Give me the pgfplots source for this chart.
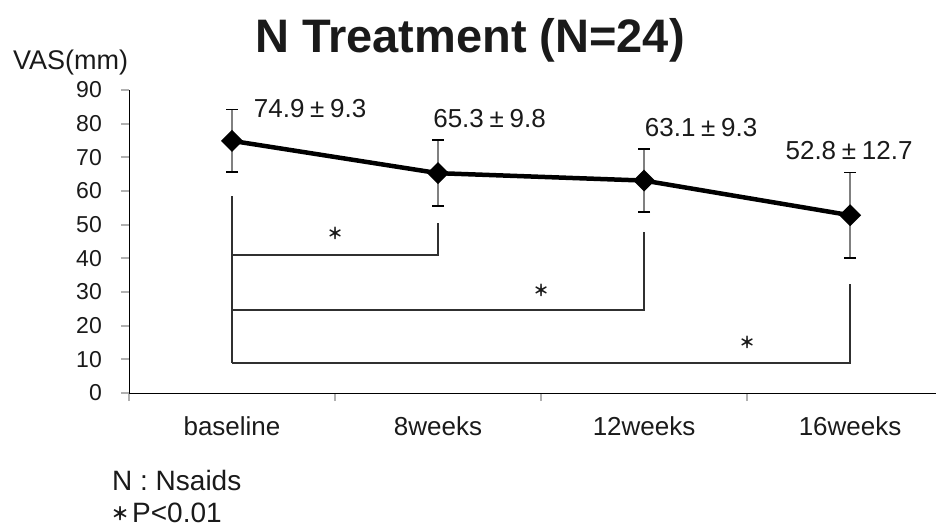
\documentclass[border=0pt]{standalone}
\usepackage{fontspec}
\setmainfont{Liberation Sans}
\newfontfamily\cjk{Noto Sans CJK JP}
\usepackage{pgfplots}
\usepackage{pgfplotstable}
\pgfplotsset{compat=1.18}
\definecolor{axisgray}{HTML}{B0B0B0}
\definecolor{errgray}{HTML}{808080}
\definecolor{brk}{HTML}{303030}
\definecolor{txt}{HTML}{1A1A1A}
\pgfplotstableread{
x y e
0 74.9 9.3
1 65.3 9.8
2 63.1 9.3
3 52.8 12.7
}\vas
\begin{document}
\begin{tikzpicture}
\path[use as bounding box] (-129bp,-134bp) rectangle (807bp,393bp);
\begin{axis}[
  at={(0,0)}, anchor=south west,
  scale only axis, width=807bp, height=303bp,
  xmin=-0.5, xmax=3.417, ymin=0, ymax=90,
  axis lines=left,
  axis line style={-},
  every axis line/.append style={draw=axisgray, line width=2bp},
  every tick/.style={draw=axisgray, line width=2bp},
  tick align=outside, major tick length=8bp,
  xtick={-0.5,0.5,1.5,2.5}, xticklabels={},
  extra x ticks={0,1,2,3},
  extra x tick labels={baseline,8weeks,12weeks,16weeks},
  extra x tick style={major tick length=0pt},
  xticklabel style={font=\fontsize{26bp}{30bp}\selectfont, text=txt, anchor=base, inner sep=0pt, yshift=-42bp},
  ytick={0,10,...,90},
  yticklabel style={font=\fontsize{23bp}{26bp}\selectfont, text=txt, anchor=east, inner sep=0pt, xshift=-19bp},
  /pgf/number format/assume math mode=true,
  clip=false,
]
\addplot[brk, line width=1.6bp, no marks] coordinates {(0,58.5) (0,8.9)};
\addplot[brk, line width=1.6bp, no marks] coordinates {(0,41) (1,41) (1,50.4)};
\addplot[brk, line width=1.6bp, no marks] coordinates {(0,24.6) (2,24.6) (2,47.8)};
\addplot[brk, line width=1.6bp, no marks] coordinates {(0,8.9) (3,8.9) (3,32.3)};
\addplot[black, line width=4.5bp, mark=square*, mark size=7bp,
  mark options={rotate=45, solid, line width=1.5bp},
  error bars/.cd, y dir=both, y explicit,
  error bar style={draw=errgray, line width=1.3bp},
  error mark options={rotate=90, draw=black, mark size=6bp, line width=1.6bp}]
  table[x=x, y=y, y error=e] {\vas};
\node[font=\cjk\bfseries\fontsize{16bp}{18bp}\selectfont, text=txt] at (axis cs:0.5,47.5) {＊};
\node[font=\cjk\bfseries\fontsize{16bp}{18bp}\selectfont, text=txt] at (axis cs:1.5,30.5) {＊};
\node[font=\cjk\bfseries\fontsize{16bp}{18bp}\selectfont, text=txt] at (axis cs:2.5,15.1) {＊};
\node[font=\fontsize{26bp}{30bp}\selectfont, text=txt, inner sep=0pt] at (axis cs:0.379,84.6) {74.9\hspace{0.22em}±\hspace{0.22em}9.3};
\node[font=\fontsize{26bp}{30bp}\selectfont, text=txt, inner sep=0pt] at (axis cs:1.25,81.4) {65.3\hspace{0.22em}±\hspace{0.22em}9.8};
\node[font=\fontsize{26bp}{30bp}\selectfont, text=txt, inner sep=0pt] at (axis cs:2.277,78.7) {63.1\hspace{0.22em}±\hspace{0.22em}9.3};
\node[font=\fontsize{26bp}{30bp}\selectfont, text=txt, inner sep=0pt] at (axis cs:2.995,71.9) {52.8\hspace{0.22em}±\hspace{0.22em}12.7};
\end{axis}
\node[font=\bfseries\fontsize{47bp}{50bp}\selectfont, text=txt, anchor=base, inner sep=0pt] at (341bp,340bp) {N Treatment (N=24)};
\node[font=\fontsize{27bp}{30bp}\selectfont, text=txt, anchor=base west, inner sep=0pt] at (-116bp,323bp) {VAS(mm)};
\node[font=\fontsize{28bp}{30bp}\selectfont, text=txt, anchor=base west, inner sep=0pt] at (-17bp,-97bp) {N : Nsaids};
\node[font=\cjk\bfseries\fontsize{18bp}{20bp}\selectfont, text=txt, inner sep=0pt] at (-9bp,-121bp) {＊};
\node[font=\fontsize{28bp}{30bp}\selectfont, text=txt, anchor=base west, inner sep=0pt] at (3bp,-129bp) {P<0.01};
\end{tikzpicture}
\end{document}
